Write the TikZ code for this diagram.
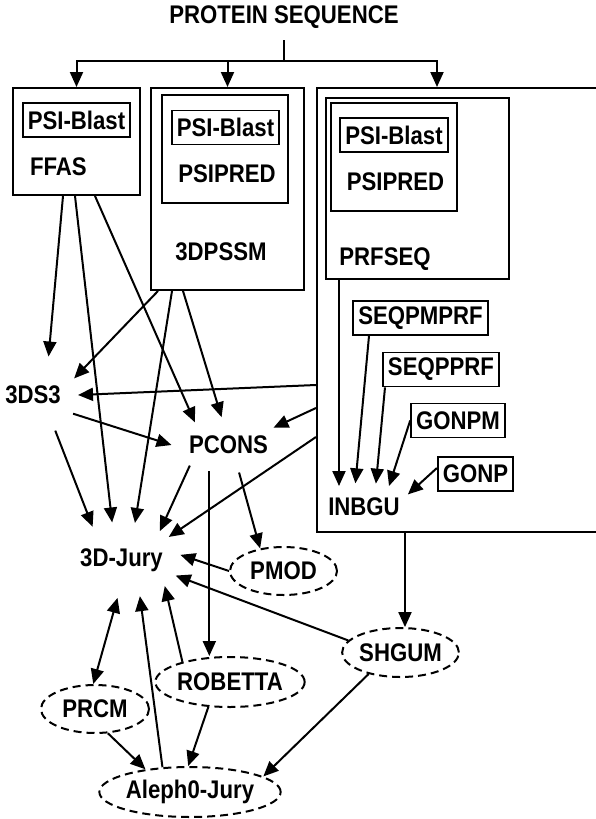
\documentclass[tikz,border=0pt]{standalone}
\usepackage{fontspec}
\setmainfont{Liberation Sans}[FakeStretch=0.87]
\usepackage{tikz}
\usetikzlibrary{arrows.meta,shapes.geometric,positioning,calc}
\newcommand{\lblfont}{\bfseries\fontsize{25.5}{29}\selectfont}
\tikzset{
    component/.style={
    rectangle,draw=black,line width=2pt,inner sep=0pt
    },
    smallcp/.style={
    rectangle,draw=black,line width=1.8pt,inner xsep=5pt,inner ysep=0pt,minimum height=34pt,font=\lblfont
    },
    txt/.style={
    inner sep=0pt,font=\lblfont
    },
    hub/.style={
    ellipse,inner sep=0pt,font=\lblfont
    },
    dserver/.style={
    ellipse,draw=black,line width=2pt,dash pattern=on 8pt off 5pt,inner sep=0pt,font=\lblfont
    },
}

\begin{document}
\begin{tikzpicture}[x=1pt, y=-1pt, line width=2pt, >={Triangle[length=15pt,width=13pt]}]
   \clip (0,0) rectangle (596,819);
   \node[txt,inner ysep=11pt] (TITLE) at (284,17) {PROTEIN SEQUENCE};
   \coordinate (split) at (284,61);

   % FFAS
   \node[component,minimum width=127pt,minimum height=107pt] (FFAS) at (76.5,141.5) {};
   \node[smallcp] (FFASblast) at (76.5,120) {PSI-Blast};
   \node[txt,anchor=west] (FFASlbl) at (29,167) {FFAS};

   % 3DPSSM
   \node[component,minimum width=153pt,minimum height=202pt] (PSSM) at (227.5,189) {};
   \node[component,minimum width=126pt,minimum height=108pt] (PSSMin) at (225,149) {};
   \node[smallcp] (PSSMblast) at (225.5,127.5) {PSI-Blast};
   \node[txt] (PSSMpred) at (227,174) {PSIPRED};
   \node[txt] (PSSMlbl) at (221,252) {3DPSSM};

   % INBGU and friends
   \node[component,minimum width=303pt,minimum height=444pt] (ALL) at (468.5,310) {};
   \node[component,minimum width=183pt,minimum height=181pt] (PRF) at (417.5,188.5) {};
   \node[component,minimum width=126pt,minimum height=108pt] (PRFin) at (394,157) {};
   \node[smallcp] (PRFblast) at (394,135) {PSI-Blast};
   \node[txt] (PRFpred) at (395.5,182) {PSIPRED};
   \node[txt] (PRFlbl) at (385,259) {PRFSEQ};
   \node[smallcp] (SEQPMPRF) at (420.5,318) {SEQPMPRF};
   \node[smallcp] (SEQPPRF) at (441,369.5) {SEQPPRF};
   \node[smallcp] (GONPM) at (458,420.5) {GONPM};
   \node[smallcp] (GONP) at (475.5,474) {GONP};
   \node[hub,minimum width=90pt,minimum height=46pt] (INBGU) at (364,507) {INBGU};

   % consensus part
   \node[hub,minimum width=88pt,minimum height=80pt] (DS3) at (33,395) {3DS3};
   \node[hub,minimum width=112pt,minimum height=54pt] (PCONS) at (228.5,445) {PCONS};
   \node[hub,minimum width=110pt,minimum height=74pt] (JURY) at (121.5,560) {3D-Jury};
   \node[dserver,minimum width=107pt,minimum height=48pt] (PMOD) at (283.5,571) {PMOD};
   \node[dserver,minimum width=107pt,minimum height=49pt] (SHGUM) at (400.5,652.5) {SHGUM};
   \node[dserver,minimum width=140pt,minimum height=50pt] (ROBETTA) at (230,682) {ROBETTA};
   \node[dserver,minimum width=108pt,minimum height=48pt] (PRCM) at (95,709) {PRCM};
   \node[dserver,minimum width=160pt,minimum height=50pt] (ALEPH) at (190,792) {Aleph0-Jury};

   \draw (TITLE.south) -- (split);
   \draw[->] (split) -| (FFAS.north);
   \draw[->] (split) -| (PSSM.north);
   \draw[->] (split) -| ([xshift=-31.5pt]ALL.north);

  \path[->]
    ([xshift=-13.5pt]FFAS.south)  edge (DS3.68)
    ([xshift=-1.5pt]FFAS.south)   edge (JURY.104)
    ([xshift=18.5pt]FFAS.south)   edge (PCONS.146)
    ([xshift=-69.5pt]PSSM.south)  edge (DS3.22)
    ([xshift=-55.5pt]PSSM.south)  edge (JURY.70)
    ([xshift=-44.5pt]PSSM.south)  edge (PCONS.104)
    ([yshift=-75pt]ALL.west)      edge (DS3.0)
    ([yshift=-98pt]ALL.west)      edge (PCONS.21)
    ([yshift=-127pt]ALL.west)     edge (JURY.26)
    (DS3.335)     edge (PCONS.180)
    (DS3.302)     edge (JURY.131)
    (PCONS.208)   edge (JURY.37)
    (PCONS.291)   edge (PMOD.136)
    (PCONS.234)   edge (PCONS.234 |- ROBETTA.north)
    (PMOD.180)    edge (JURY.5)
    (SHGUM.167)   edge (JURY.344)
    (ALL.south -| SHGUM.80) edge (SHGUM.80)
    (ROBETTA.157) edge (JURY.329)
    (ALEPH.138)   edge (JURY.297)
    (PRCM.298)    edge (ALEPH.153)
    (ROBETTA.229) edge (ALEPH.94)
    (SHGUM.214)   edge (ALEPH.12)
    (PRF.south -| INBGU.140) edge (INBGU.140)
    ([xshift=-51.5pt]SEQPMPRF.south) edge (INBGU.110)
    ([xshift=-56pt]SEQPPRF.south)    edge (INBGU.63)
    (GONPM.west)  edge (INBGU.40)
    ([yshift=6pt]GONP.west) edge (INBGU.16);
  \path[<->] (JURY.264) edge (PRCM.94);
\end{tikzpicture}
\end{document}
